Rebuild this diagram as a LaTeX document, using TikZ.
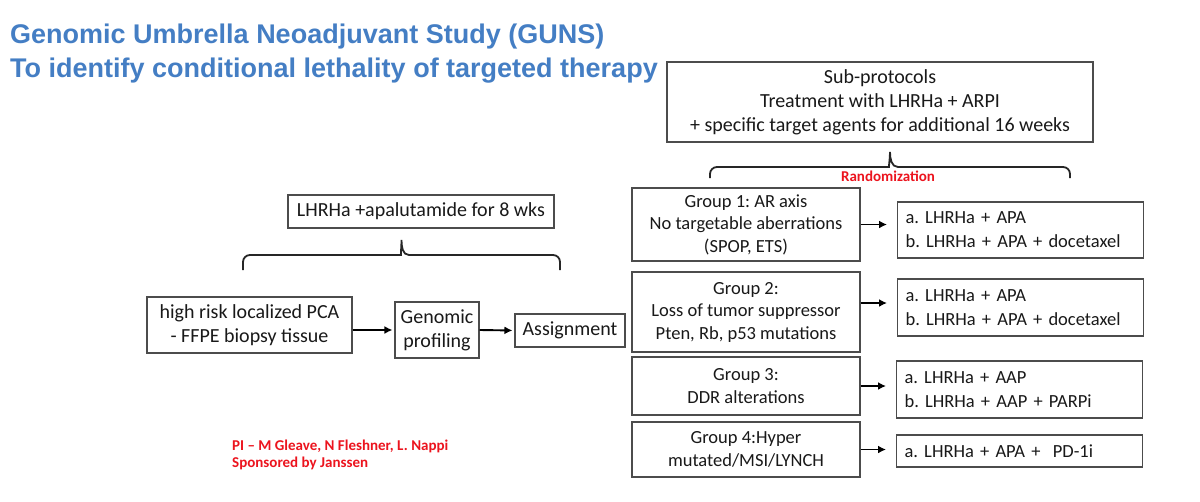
\documentclass[tikz,border=0pt]{standalone}
\usepackage{fontspec}
\setmainfont{Carlito}
\newfontfamily\titlefont{Liberation Sans}
\usepackage{tikz}
\usetikzlibrary{arrows.meta, positioning}
\usepackage{xcolor}
\definecolor{gunsblue}{RGB}{68,126,196}
\definecolor{gunsred}{RGB}{236,20,30}
\frenchspacing

\begin{document}
\begin{tikzpicture}[
  x=1pt, y=-1pt,
  block/.style = {draw=black!70, line width=1.1pt, inner sep=0pt, align=center, text=black!90, font=\fontsize{20}{24}\selectfont},
  groupblock/.style = {block, minimum width=228pt, font=\fontsize{18.5}{22.5}\selectfont},
  resblock/.style = {block, anchor=west, align=left, text width=230pt, inner xsep=8pt, font=\fontsize{18.5}{24}\selectfont},
  arrow/.style = {line width=1.9pt, -{Latex[length=8pt, width=8pt]}},
  bracket/.style = {line width=1.8pt, black!85},
  titletext/.style = {anchor=base west, inner sep=0pt, text=gunsblue, font=\titlefont\bfseries\fontsize{27}{32}\selectfont},
  redtext/.style = {inner sep=0pt, text=gunsred, font=\bfseries\fontsize{15}{17}\selectfont}
]
  \fill[white] (0,0) rectangle (1200,501);
  \useasboundingbox (0,0) rectangle (1200,501);

  % ======================================================
  % Title
  % ======================================================
  \node[titletext] (title) at (10,43) {Genomic Umbrella Neoadjuvant Study (GUNS)};
  \node[titletext] (aim) at (10,77) {To identify conditional lethality of targeted therapy};

  % ======================================================
  % Screening path (left)
  % ======================================================
  \node[block, minimum width=266pt, minimum height=33pt] (induction) at (421,211.5) {LHRHa +apalutamide for 8 wks};

  \node[block, minimum width=205pt, minimum height=56pt] (patient) at (249.5,325) {high risk localized PCA\\- FFPE biopsy tissue};
  \node[block, minimum width=84pt, minimum height=56pt] (profiling) at (437,330) {Genomic\\profiling};
  \node[block, minimum width=110pt, minimum height=33pt] (assign) at (570,330.5) {Assignment};

  % bracket under induction box
  \draw[bracket] (243,270) [rounded corners=7pt] |- (394,255) [sharp corners]
    to[out=0, in=-90] (401.5,240) to[out=-90, in=180] (409,255)
    [rounded corners=7pt] -| (560,270);

  \draw[arrow, shorten >=2pt] (profiling.west -| patient.east) -- (profiling.west);
  \draw[arrow, shorten >=2pt] (profiling.east) -- (assign.west);

  % ======================================================
  % Sub-protocols (right)
  % ======================================================
  \node[block, minimum width=426pt, minimum height=80pt] (subprot) at (880,102)
    {Sub-protocols\\Treatment with LHRHa + ARPI\\+ specific target agents for additional 16 weeks};

  % randomization bracket
  \draw[bracket] (710,178) [rounded corners=7pt] |- (882,167) [sharp corners]
    to[out=0, in=-90] (890,152) to[out=-90, in=180] (898,167)
    [rounded corners=7pt] -| (1070,178);
  \node[redtext, anchor=base] (rand) at (888,181) {Randomization};

  % groups
  \node[groupblock, minimum height=73pt] (grpA) at (746,224.5) {Group 1: AR axis\\No targetable aberrations\\(SPOP, ETS)};
  \node[groupblock, minimum height=80pt] (grpB) at (746,312) {Group 2:\\Loss of tumor suppressor\\Pten, Rb, p53 mutations};
  \node[groupblock, minimum height=58pt] (grpC) at (746,386) {Group 3:\\DDR alterations};
  \node[groupblock, minimum height=55pt] (grpD) at (746,449.5) {Group 4:Hyper\\mutated/MSI/LYNCH};

  % treatment arms
  \node[resblock, minimum height=56pt] (resA) at (897,230) {a. LHRHa + APA\\b. LHRHa + APA + docetaxel};
  \node[resblock, minimum height=57pt] (resB) at (897,307.5) {a. LHRHa + APA\\b. LHRHa + APA + docetaxel};
  \node[resblock, minimum height=57pt] (resC) at (896,389.5) {a. LHRHa + AAP\\b. LHRHa + AAP + PARPi};
  \node[resblock, minimum height=32pt] (resD) at (896,451) {a. LHRHa + APA + \ PD-1i};

  \draw[arrow, shorten >=10pt] (grpA.east) -- (grpA.east -| resA.west);
  \draw[arrow, shorten >=10pt] ([yshift=9pt]grpB.east) -- ([yshift=9pt]grpB.east -| resB.west);
  \draw[arrow, shorten >=10pt] (grpC.east) -- (grpC.east -| resC.west);
  \draw[arrow, shorten >=10pt] (grpD.east) -- (grpD.east -| resD.west);

  % ======================================================
  % Credits
  % ======================================================
  \node[redtext, anchor=base west] (investigators) at (232,450) {PI – M Gleave, N Fleshner, L. Nappi};
  \node[redtext, anchor=base west] (sponsor) at (232,467) {Sponsored by Janssen};

\end{tikzpicture}
\end{document}
